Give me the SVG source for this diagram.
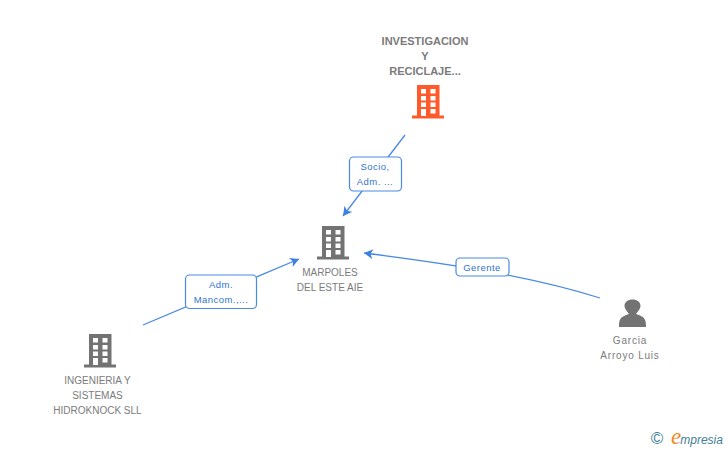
<svg xmlns="http://www.w3.org/2000/svg" width="728" height="450" viewBox="0 0 728 450">
<style>
.t{font-family:"Liberation Sans",Arial,sans-serif;font-size:10px;fill:#7b7b7b;text-anchor:middle}
.b{font-weight:bold;font-size:11px}
.w{letter-spacing:.8px}
.l{font-family:"Liberation Sans",Arial,sans-serif;font-size:9.5px;fill:#2f74d0;text-anchor:middle;letter-spacing:.45px}
.c{fill:none;stroke:#4a8ae4;stroke-width:1.3}
.p{fill:#fff;stroke:#4a8ae4;stroke-width:1.2}
</style>
<defs>
<marker id="a" markerUnits="userSpaceOnUse" markerWidth="12" markerHeight="12" refX="9" refY="5" orient="auto"><path d="M0 0L9 5L0 10L2.5 5Z" fill="#3d80e0"/></marker>
<g id="bld"><path d="M3 0H25.500V31H3Z"/><path d="M-2 30.500H30V33.500H-2Z"/>
<g fill="#fff"><rect x="7" y="4" width="5" height="4.500"/><rect x="16.500" y="4" width="5" height="4.500"/><rect x="7" y="11" width="5" height="4.500"/><rect x="16.500" y="11" width="5" height="4.500"/><rect x="7" y="17.500" width="5" height="4.500"/><rect x="16.500" y="17.500" width="5" height="4.500"/><rect x="7" y="24" width="5" height="7"/><rect x="16.500" y="24" width="5" height="4.500"/></g></g>
</defs>
<g id="connectors">
<path class="c" d="M405 135L343 216" marker-end="url(#a)"/>
<path class="c" d="M143 325L299 259" marker-end="url(#a)"/>
<path class="c" d="M600 298C530 276 450 264 364 253" marker-end="url(#a)"/>
</g>
<g id="label-socio"><rect class="p" x="349.500" y="157" width="52" height="34" rx="4"/><text class="l" x="375" y="170">Socio,</text><text class="l" x="375" y="185">Adm. ...</text></g>
<g id="label-adm"><rect class="p" x="185.500" y="275" width="71" height="33.500" rx="4"/><text class="l" x="221" y="288">Adm.</text><text class="l" x="221" y="303">Mancom.,...</text></g>
<g id="label-gerente"><rect class="p" x="456" y="258" width="53" height="18" rx="4"/><text class="l" x="482" y="271">Gerente</text></g>
<g id="node-investigacion"><text class="t b" x="425" y="45">INVESTIGACION</text><text class="t b" x="425" y="60">Y</text><text class="t b" x="425" y="75">RECICLAJE...</text><use href="#bld" x="414" y="85" fill="#ff5a2b"/></g>
<g id="node-marpoles"><text class="t" x="330" y="276">MARPOLES</text><text class="t" x="330" y="291">DEL ESTE AIE</text><use href="#bld" x="319" y="226" fill="#737373"/></g>
<g id="node-ingenieria"><use href="#bld" x="86" y="334" fill="#737373"/><text class="t" x="97.500" y="384">INGENIERIA Y</text><text class="t" x="97.500" y="399">SISTEMAS</text><text class="t" x="97.500" y="414">HIDROKNOCK SLL</text></g>
<g id="node-garcia"><path fill="#737373" d="M619 327C619 319 620 317 629 314C627 311 624.500 309 624.500 306C624.500 302 628 299.500 632.500 299.500C637 299.500 640.500 302 640.500 306C640.500 309 638 311 636 314C645 317 646 319 646 327Z"/><text class="t w" x="630" y="344">Garcia</text><text class="t w" x="630" y="359">Arroyo Luis</text></g>
<g id="logo"><text x="657" y="444" font-family="Liberation Sans,sans-serif" font-size="17" fill="#3f7f95" text-anchor="middle">©</text><text x="671" y="444" font-family="Liberation Sans,sans-serif" font-style="italic" font-size="12" fill="#3f8095"><tspan font-family="Liberation Serif,serif" font-size="23" fill="#f08a1d">e</tspan><tspan dx="-1">mpresia</tspan></text></g>
</svg>
